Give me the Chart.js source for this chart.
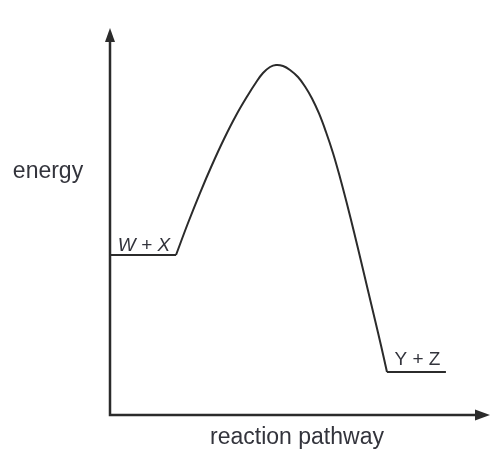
<!DOCTYPE html>
<html>
<head>
<meta charset="utf-8">
<script src="https://cdn.jsdelivr.net/npm/chart.js@4.4.1/dist/chart.umd.min.js"></script>
<style>
html,body{margin:0;padding:0;background:#fff;}
#wrap{width:491px;height:452px;position:relative;}
</style>
</head>
<body>
<div id="wrap"><canvas id="c"></canvas></div>
<script>
// Energy profile data (reaction pathway 0-100, energy 0-100)
const stageLabels = ['W + X', 'Y + Z'];
const axisTitleX = 'reaction pathway';
const axisTitleY = 'energy';

const reactantX = [0, 17.37];
const reactantY = [41.34, 41.34];

const humpX = [17.37, 20.53, 23.68, 26.84, 30.0, 33.16, 36.32, 38.42, 40.26, 42.11, 43.68, 45.53, 47.37, 49.47, 51.32, 53.16, 55.0, 56.84, 58.68, 60.53, 62.37, 64.21, 66.05, 67.89, 69.74, 71.32, 72.89];
const humpY = [41.34, 49.61, 57.36, 64.60, 71.32, 77.39, 82.69, 85.92, 88.37, 89.92, 90.44, 90.18, 89.15, 87.34, 84.88, 81.78, 77.91, 73.13, 67.70, 61.37, 54.52, 47.29, 39.79, 32.17, 24.55, 17.96, 11.11];

const productX = [72.89, 88.4];
const productY = [11.11, 11.11];

const toPts = (xs, ys) => xs.map((x, i) => ({x, y: ys[i]}));

const ink = '#2b2b2b';
const textInk = '#33343c';

const overlay = {
  id: 'overlay',
  afterDatasetsDraw(chart) {
    const {ctx, chartArea: a, scales: {x, y}} = chart;
    ctx.save();
    // axes
    ctx.strokeStyle = ink;
    ctx.fillStyle = ink;
    ctx.lineWidth = 2.5;
    ctx.beginPath();
    ctx.moveTo(a.left, a.top + 10);
    ctx.lineTo(a.left, a.bottom);
    ctx.lineTo(a.right - 10, a.bottom);
    ctx.stroke();
    // arrow heads
    ctx.beginPath();
    ctx.moveTo(a.left, a.top);
    ctx.lineTo(a.left - 5, a.top + 14);
    ctx.lineTo(a.left + 5, a.top + 14);
    ctx.closePath();
    ctx.fill();
    ctx.beginPath();
    ctx.moveTo(a.right, a.bottom);
    ctx.lineTo(a.right - 15, a.bottom - 5.5);
    ctx.lineTo(a.right - 15, a.bottom + 5.5);
    ctx.closePath();
    ctx.fill();

    // stage labels
    ctx.fillStyle = textInk;
    ctx.textAlign = 'center';
    ctx.textBaseline = 'alphabetic';
    ctx.font = 'italic 19px "Liberation Sans", Arial, sans-serif';
    const lx = (x.getPixelForValue(reactantX[0]) + x.getPixelForValue(reactantX[1])) / 2 + 1;
    ctx.fillText(stageLabels[0], lx, y.getPixelForValue(reactantY[0]) - 4);
    ctx.font = '19px "Liberation Sans", Arial, sans-serif';
    const rx = (x.getPixelForValue(productX[0]) + x.getPixelForValue(productX[1])) / 2 + 1;
    ctx.fillText(stageLabels[1], rx, y.getPixelForValue(productY[0]) - 7);

    // axis titles
    ctx.font = '23px "Liberation Sans", Arial, sans-serif';
    ctx.textBaseline = 'middle';
    ctx.fillText(axisTitleY, 48, 172);
    ctx.fillText(axisTitleX, 297, 438);
    ctx.restore();
  }
};

const lineStyle = {borderColor: ink, borderWidth: 2, pointRadius: 0, fill: false};

new Chart(document.getElementById('c'), {
  type: 'line',
  data: {
    datasets: [
      Object.assign({data: toPts(reactantX, reactantY), tension: 0}, lineStyle),
      Object.assign({data: toPts(humpX, humpY), tension: 0.4}, lineStyle),
      Object.assign({data: toPts(productX, productY), tension: 0}, lineStyle)
    ]
  },
  options: {
    responsive: true,
    maintainAspectRatio: false,
    animation: false,
    layout: {padding: {left: 110, top: 28, right: 1, bottom: 37}},
    plugins: {legend: {display: false}, tooltip: {enabled: false}},
    scales: {
      x: {type: 'linear', min: 0, max: 100, display: false},
      y: {type: 'linear', min: 0, max: 100, display: false}
    }
  },
  plugins: [overlay]
});
</script>
</body>
</html>
